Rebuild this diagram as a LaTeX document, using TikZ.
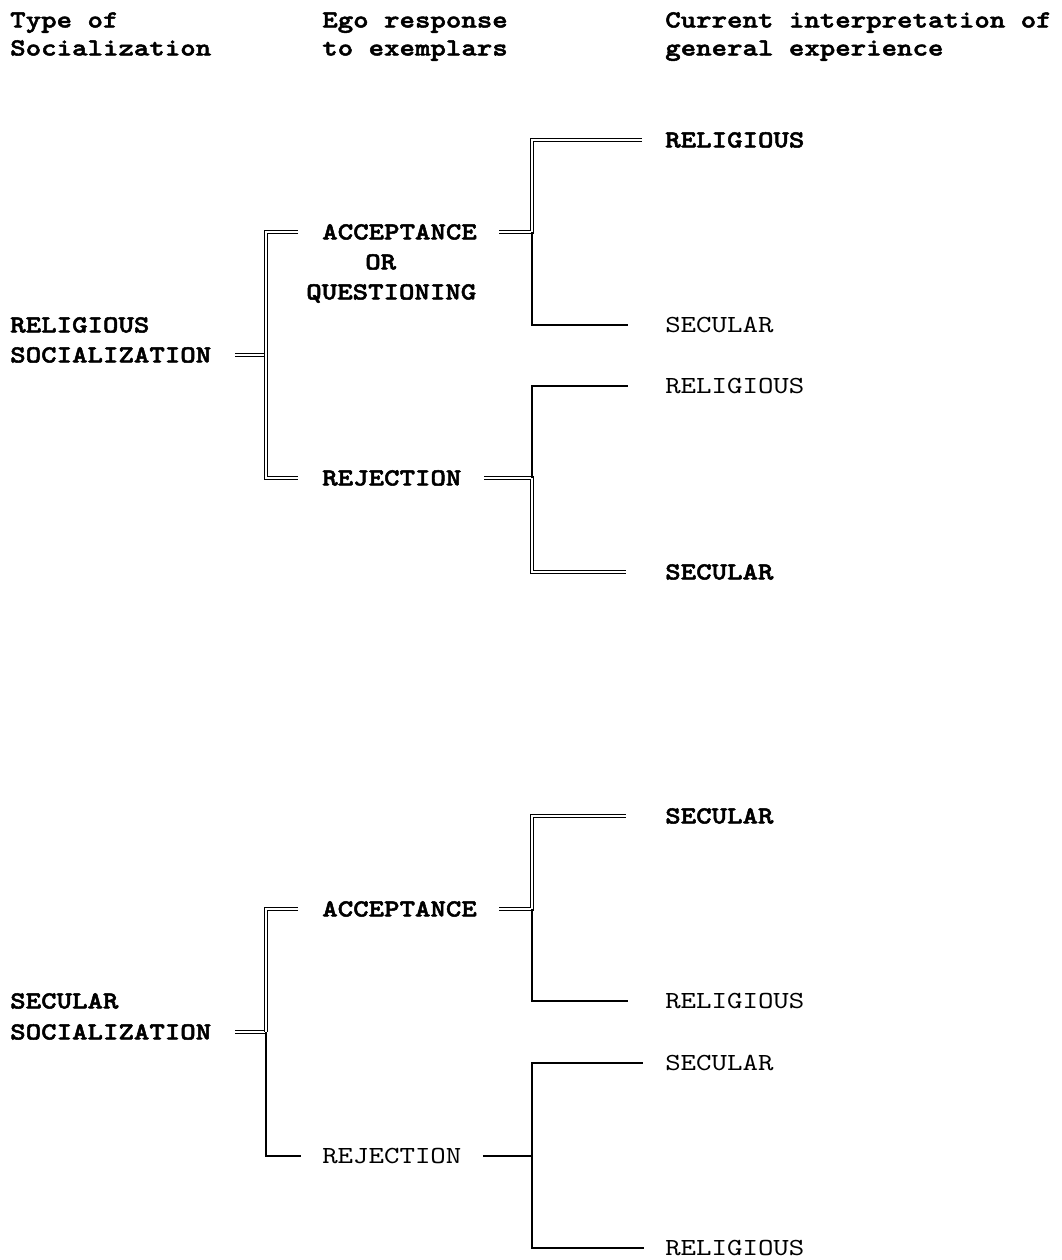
\documentclass[tikz,border=0pt]{standalone}
\usepackage{fontspec}
\newfontfamily\typeface{lmmono10-regular.otf}[FakeStretch=1.2,BoldFont=lmmonolt10-bold.otf,BoldFeatures={FakeBold=2}]
\usetikzlibrary{positioning}
\newcommand{\typewr}{\fontsize{18.4}{22.5}\selectfont\typeface}

\begin{document}
\begin{tikzpicture}[x=0.75pt,y=-0.75pt,
    lbl/.style={anchor=west,inner sep=0pt,font=\typewr,text height=11.2pt,text depth=0pt},
    blbl/.style={lbl,font=\typewr\bfseries},
    single/.style={line width=1pt},
    dbl/.style={double,double distance=1.5pt,line width=0.9pt}]

  \useasboundingbox (0,0) rectangle (1061,1260);

  % column heads
  \node[blbl] (h1) at (10,20) {Type of};
  \node[blbl] (h1b) [shift={(0,28)}] at (h1.west) {Socialization};
  \node[blbl] (h2) at (322,20) {Ego response};
  \node[blbl] (h2b) [shift={(0,28)}] at (h2.west) {to exemplars};
  \node[blbl] (h3) at (665,20) {Current interpretation of};
  \node[blbl] (h3b) [shift={(0,28)}] at (h3.west) {general experience};

  \coordinate (xa) at (266,0);
  \coordinate (xb) at (532,0);

  % religious socialization
  \node[blbl] (relsoc) at (10,325) {RELIGIOUS};
  \node[blbl] (soc1) [shift={(0,30)}] at (relsoc.west) {SOCIALIZATION};
  \node[blbl] (acc1) at (322,232) {ACCEPTANCE};
  \node[blbl] (or1) at (365,262) {OR};
  \node[blbl] (que1) at (306,292) {QUESTIONING};
  \node[blbl] (rej1) at (322,478) {REJECTION};
  \node[blbl] (rel1) at (665,140) {RELIGIOUS};
  \node[lbl] (sec1) at (665,325) {SECULAR};
  \node[lbl] (rel2) at (665,386) {RELIGIOUS};
  \node[blbl] (sec2) at (665,572) {SECULAR};

  \draw[dbl] ([xshift=18pt]soc1.east) -- (soc1.east -| xa);
  \draw[dbl] ([xshift=-18pt]acc1.west) -| (rej1.west -| xa) -- ([xshift=-18pt]rej1.west);
  \draw[dbl] ([xshift=16.5pt]acc1.east) -| (rel1.west -| xb) -- ([xshift=-17pt]rel1.west);
  \draw[single] (acc1.east -| xb) |- ([xshift=-28pt]sec1.west);
  \draw[dbl] ([xshift=17pt]rej1.east) -| (sec2.west -| xb) -- ([xshift=-29pt]sec2.west);
  \draw[single] (rej1.east -| xb) |- ([xshift=-28pt]rel2.west);

  % secular socialization
  \node[blbl] (secsoc) at (10,1001) {SECULAR};
  \node[blbl] (soc2) [shift={(0,31)}] at (secsoc.west) {SOCIALIZATION};
  \node[blbl] (acc2) at (322,909) {ACCEPTANCE};
  \node[lbl] (rej2) at (322,1156) {REJECTION};
  \node[blbl] (sec3) at (665,816) {SECULAR};
  \node[lbl] (rel3) at (665,1001) {RELIGIOUS};
  \node[lbl] (sec4) at (665,1063) {SECULAR};
  \node[lbl] (rel4) at (665,1248) {RELIGIOUS};

  \draw[dbl] ([xshift=18pt]soc2.east) -- (soc2.east -| xa);
  \draw[single] (soc2.east -| xa) |- ([xshift=-16pt]rej2.west);
  \draw[dbl] ([xshift=-18pt]acc2.west) -| (soc2.east -| xa);
  \draw[dbl] ([xshift=16.5pt]acc2.east) -| (sec3.west -| xb) -- ([xshift=-29pt]sec3.west);
  \draw[single] (acc2.east -| xb) |- ([xshift=-28pt]rel3.west);
  \draw[single] ([xshift=16pt]rej2.east) -| (sec4.west -| xb) -- ([xshift=-16.5pt]sec4.west);
  \draw[single] (rej2.east -| xb) |- ([xshift=-16pt]rel4.west);

\end{tikzpicture}
\end{document}
